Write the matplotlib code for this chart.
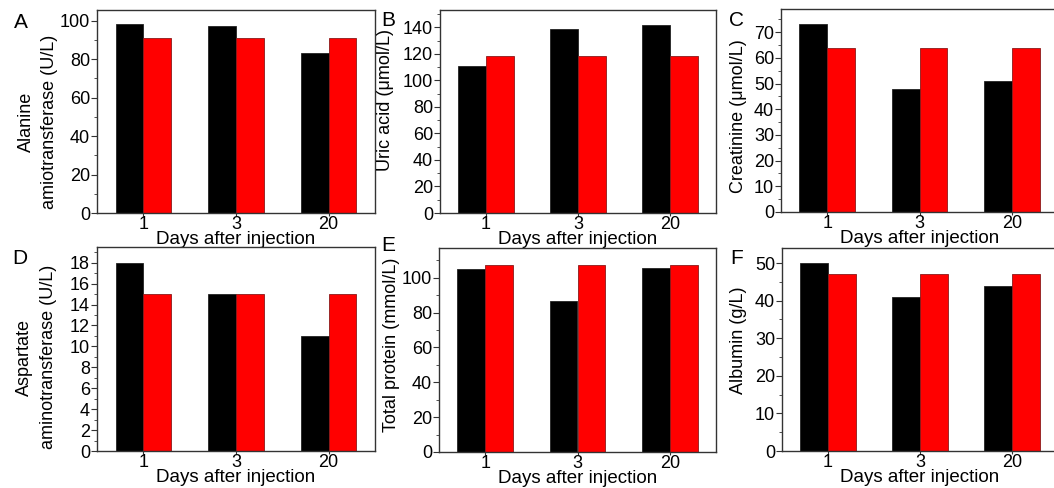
import matplotlib
matplotlib.use("Agg")
import matplotlib.pyplot as plt
from matplotlib.ticker import MultipleLocator

plt.rcParams["font.family"] = ["Liberation Sans", "DejaVu Sans"]

# Данные
days = ["1", "3", "20"]

alt_treated = [98, 97, 83]
alt_control = [91, 91, 91]

uric_treated = [111, 139, 142]
uric_control = [118, 118, 118]

creat_treated = [73, 48, 51]
creat_control = [64, 64, 64]

ast_treated = [18, 15, 11]
ast_control = [15, 15, 15]

protein_treated = [105, 86.5, 105.5]
protein_control = [107.5, 107.5, 107.5]

albumin_treated = [50, 41, 44]
albumin_control = [47, 47, 47]

W, H = 1054, 488


def px_axes(fig, left, right, top, bottom):
    """Создаёт оси по пиксельным координатам картинки."""
    return fig.add_axes([left / W, 1 - bottom / H, (right - left) / W, (bottom - top) / H])


def draw_panel(ax, treated, control, ymax, major, minor, ylabel, label_xy):
    x = range(len(days))
    w = 0.3
    ax.bar([i + 1 - w / 2 for i in x], treated, width=w, color="black",
           edgecolor="#222222", linewidth=0.6)
    ax.bar([i + 1 + w / 2 for i in x], control, width=w, color="#ff0000",
           edgecolor="#8a1a1a", linewidth=0.6)
    ax.set_xlim(0.5, 3.5)
    ax.set_ylim(0, ymax)
    ax.set_xticks([1, 2, 3])
    ax.set_xticklabels(days)
    ax.yaxis.set_major_locator(MultipleLocator(major))
    ax.yaxis.set_minor_locator(MultipleLocator(minor))
    ax.tick_params(axis="y", which="major", direction="out", length=4, width=0.8,
                   labelsize=13, pad=1, color="#333333")
    ax.tick_params(axis="y", which="minor", direction="out", length=2, width=0.6,
                   color="#333333")
    ax.tick_params(axis="x", which="major", direction="out", length=2, width=0.8,
                   labelsize=13, pad=0, color="#333333")
    for sp in ax.spines.values():
        sp.set_color("#333333")
        sp.set_linewidth(1.0)
    ax.set_xlabel("Days after injection", fontsize=13.5, labelpad=-1.5)
    ax.set_ylabel(ylabel, fontsize=13, linespacing=1.5)
    ax.yaxis.set_label_coords(*label_xy)


fig = plt.figure(figsize=(W / 100, H / 100), dpi=100)

axA = px_axes(fig, 97, 375, 10, 213)
draw_panel(axA, alt_treated, alt_control, 105.5, 20, 10,
           "Alanine\namiotransferase (U/L)", (-0.14, 0.45))

axB = px_axes(fig, 440, 716, 10, 213)
draw_panel(axB, uric_treated, uric_control, 153, 20, 10,
           "Uric acid (\u03bcmol/L)", (-0.165, 0.556))

axC = px_axes(fig, 781, 1058, 9, 212)
draw_panel(axC, creat_treated, creat_control, 79, 10, 5,
           "Creatinine (\u03bcmol/L)", (-0.123, 0.47))

axD = px_axes(fig, 97, 375, 247, 451)
draw_panel(axD, ast_treated, ast_control, 19.5, 2, 1,
           "Aspartate\naminotransferase (U/L)", (-0.145, 0.46))

axE = px_axes(fig, 439, 716, 248, 452)
draw_panel(axE, protein_treated, protein_control, 117, 20, 10,
           "Total protein (mmol/L)", (-0.14, 0.525))

axF = px_axes(fig, 782, 1058, 248, 451)
draw_panel(axF, albumin_treated, albumin_control, 54, 10, 5,
           "Albumin (g/L)", (-0.126, 0.547))

# Буквы панелей
letters = [("A", 21, 22), ("B", 388, 21), ("C", 736, 20),
           ("D", 20, 258), ("E", 388, 246), ("F", 737, 259)]
for s, lx, ly in letters:
    fig.text(lx / W, 1 - ly / H, s, fontsize=15, ha="center", va="center")

plt.savefig("out.png", dpi=100)
plt.close()
